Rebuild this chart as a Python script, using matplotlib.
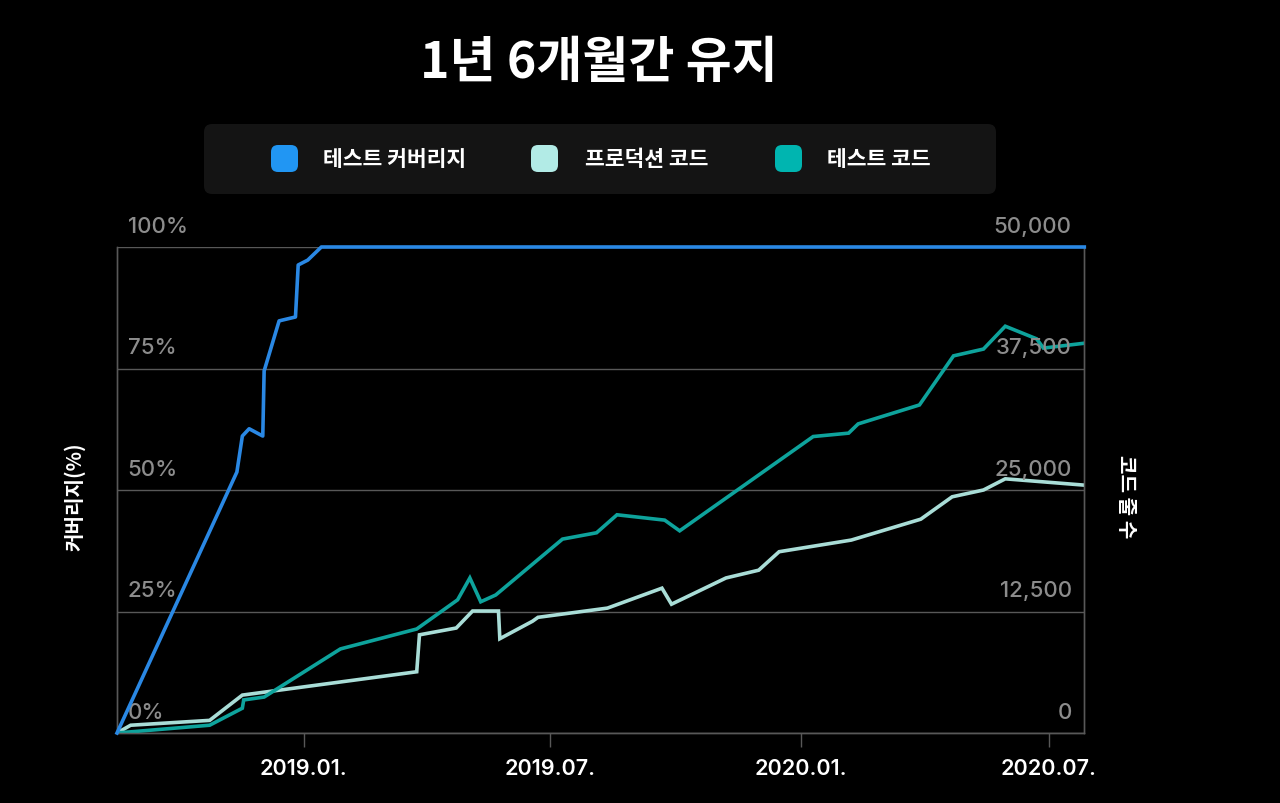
import matplotlib.pyplot as plt
import matplotlib.dates as mdates
import matplotlib.transforms as mtransforms
from matplotlib.patches import FancyBboxPatch
import pandas as pd

# data
cov_dates = ['2018-08-17', '2018-11-13', '2018-11-17', '2018-11-22', '2018-12-02', '2018-12-03',
             '2018-12-14', '2018-12-26', '2018-12-28', '2019-01-04', '2019-01-14', '2020-07-27']
cov_values = [0, 53.7, 61.1, 62.6, 61.1, 74.5, 84.8, 85.6, 96.3, 97.3, 100, 100]

prod_dates = ['2018-08-17', '2018-08-27', '2018-10-24', '2018-11-17', '2019-03-25', '2019-03-27',
              '2019-04-23', '2019-05-05', '2019-05-24', '2019-05-25', '2019-06-18', '2019-06-22',
              '2019-08-12', '2019-09-21', '2019-09-28', '2019-11-07', '2019-12-01', '2019-12-16',
              '2020-02-07', '2020-03-29', '2020-04-21', '2020-05-14', '2020-05-30', '2020-07-27']
prod_lines = [0, 800, 1300, 3900, 6300, 10100, 10800, 12550, 12550, 9700, 11500, 11900,
              12850, 14900, 13250, 15950, 16750, 18650, 19850, 22000, 24300, 25000, 26150, 25500]

test_dates = ['2018-08-17', '2018-10-24', '2018-11-17', '2018-11-18', '2018-12-03', '2019-01-28',
              '2019-03-25', '2019-04-24', '2019-05-03', '2019-05-11', '2019-05-22', '2019-07-10',
              '2019-08-04', '2019-08-19', '2019-09-23', '2019-10-04', '2020-01-10', '2020-02-05',
              '2020-02-12', '2020-03-28', '2020-04-22', '2020-05-14', '2020-05-30', '2020-06-22',
              '2020-06-27', '2020-07-27']
test_lines = [0, 800, 2550, 3400, 3700, 8650, 10700, 13700, 15950, 13500, 14200, 19950,
              20600, 22450, 21900, 20800, 30500, 30850, 31800, 33750, 38800, 39500, 41850, 40550,
              39600, 40100]

series_names = ['테스트 커버리지', '프로덕션 코드', '테스트 코드']
legend_colors = ['#2196f3', '#b2ebe6', '#00b5b0']
line_colors = ['#2a88e4', '#a9ddd7', '#0ea39c']

cov_ticks = [0, 25, 50, 75, 100]
cov_labels = ['0%', '25%', '50%', '75%', '100%']
code_ticks = [0, 12500, 25000, 37500, 50000]
code_labels = ['0', '12,500', '25,000', '37,500', '50,000']
x_ticks = ['2019-01-01', '2019-07-01', '2020-01-01', '2020-07-01']

KR = ['Noto Sans CJK KR', 'DejaVu Sans']
NUM = ['Inter', 'DejaVu Sans']
grid_col = '#585858'
label_col = '#8c8c8c'

fig = plt.figure(figsize=(12.8, 8.04), dpi=100, facecolor='black')
ax = fig.add_axes([117 / 1280, 1 - 734 / 804, (1084.3 - 117) / 1280, (734 - 248) / 804])
ax.set_facecolor('black')
ax2 = ax.twinx()

ax2.plot(pd.to_datetime(prod_dates), prod_lines, color=line_colors[1], lw=2.6, solid_joinstyle='miter')
ax2.plot(pd.to_datetime(test_dates), test_lines, color=line_colors[2], lw=2.6, solid_joinstyle='miter')
ax2.plot(pd.to_datetime(cov_dates), [v / 100 * 50000 for v in cov_values], color=line_colors[0],
         lw=2.6, clip_on=False, zorder=5)

ax.set_ylim(0, 100)
ax2.set_ylim(0, 50000)
ax.set_xlim(pd.Timestamp('2018-08-17'), pd.Timestamp('2020-07-27'))

ax.set_yticks(cov_ticks)
ax2.set_yticks(code_ticks)
ax.yaxis.grid(True, color=grid_col, lw=1)
ax.tick_params(axis='y', length=0, labelleft=False)
ax2.tick_params(axis='y', length=0, labelright=False)

ax.set_xticks(pd.to_datetime(x_ticks))
ax.xaxis.set_major_formatter(mdates.DateFormatter('%Y.%m.'))
ax.tick_params(axis='x', colors=grid_col, length=10, width=1, pad=8, labelcolor='white', labelsize=15.5)
for t in ax.get_xticklabels():
    t.set_family(NUM)
    t.set_fontweight('semibold')

for a in (ax, ax2):
    for s in a.spines.values():
        s.set_color(grid_col)
        s.set_linewidth(1)
    a.spines['top'].set_visible(False)

# tick labels sit inside the plot, just above each gridline
left_tr = mtransforms.offset_copy(ax.get_yaxis_transform(), fig=fig, x=0, y=11, units='points')
for v, lab in zip(cov_ticks, cov_labels):
    ax.text(0.011, v, lab, transform=left_tr, ha='left', va='baseline', color=label_col,
            fontsize=16, family=NUM, fontweight='medium')
right_tr = mtransforms.offset_copy(ax2.get_yaxis_transform(), fig=fig, x=0, y=11, units='points')
for v, lab in zip(code_ticks, code_labels):
    ax2.text(0.987, v, lab, transform=right_tr, ha='right', va='baseline', color=label_col,
             fontsize=16, family=NUM, fontweight='medium')

fig.text(75 / 1280, 1 - 497 / 804, '커버리지(%)', rotation=90, ha='center', va='center',
         color='white', fontsize=14.5, family=KR, fontweight='bold')
fig.text(1126 / 1280, 1 - 497 / 804, '코드 줄 수', rotation=270, ha='center', va='center',
         color='white', fontsize=14.5, family=KR, fontweight='bold')

fig.text(599 / 1280, 1 - 63 / 804, '1년 6개월간 유지', ha='center', va='center', color='white',
         fontsize=36, family=KR, fontweight='heavy')

# legend panel
px = fig.dpi_scale_trans
fig.patches.append(FancyBboxPatch((212 / 100, (804 - 187) / 100), 776 / 100, 54 / 100,
                                  boxstyle='round,pad=0.08', transform=px,
                                  facecolor='#141414', edgecolor='none'))
mark_x = [271, 531, 775]
text_x = [323, 585, 827]
for mx, tx, name, col in zip(mark_x, text_x, series_names, legend_colors):
    fig.patches.append(FancyBboxPatch(((mx + 7) / 100, (804 - 173 + 7) / 100), 13 / 100, 13 / 100,
                                      boxstyle='round,pad=0.07', transform=px,
                                      facecolor=col, edgecolor='none'))
    fig.text(tx / 1280, 1 - 160 / 804, name, ha='left', va='center', color='white',
             fontsize=15.5, family=KR, fontweight='bold')

fig.savefig('out.png', dpi=100, facecolor='black')
